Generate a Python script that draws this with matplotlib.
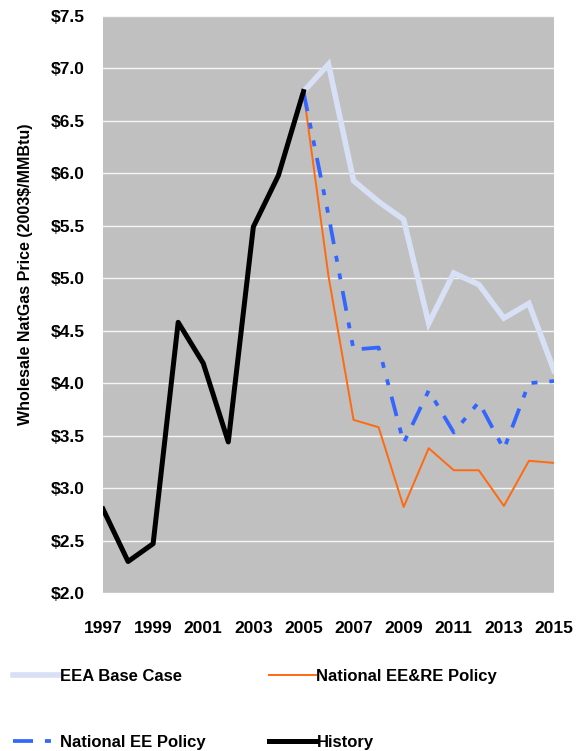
import matplotlib
matplotlib.use('Agg')
import matplotlib.pyplot as plt
import numpy as np

# Wholesale natural gas price, 2003$/MMBtu
hist_years = [1997, 1998, 1999, 2000, 2001, 2002, 2003, 2004, 2005]
history = [2.80, 2.30, 2.47, 4.58, 4.19, 3.44, 5.49, 5.98, 6.78]

proj_years = list(range(2005, 2016))
eea_base = [6.78, 7.04, 5.93, 5.73, 5.56, 4.57, 5.05, 4.94, 4.62, 4.76, 4.12]
ee_policy = [6.78, 5.60, 4.32, 4.34, 3.43, 3.93, 3.53, 3.82, 3.37, 4.00, 4.02]
eere_policy = [6.78, 5.02, 3.65, 3.58, 2.82, 3.38, 3.17, 3.17, 2.83, 3.26, 3.24]

x_ticks = list(range(1997, 2016, 2))
y_ticks = np.arange(2.0, 7.51, 0.5)

plt.rcParams['font.family'] = ['Liberation Sans', 'DejaVu Sans']
plt.rcParams['font.weight'] = 'bold'
plt.rcParams['lines.scale_dashes'] = False

fig = plt.figure(figsize=(5.84, 7.51), dpi=100)
ax = fig.add_axes([0.1764, 0.2104, 0.7722, 0.7683])
ax.set_facecolor('#c0c0c0')

l_eea, = ax.plot(proj_years, eea_base, color='#d8e0f5', lw=4.0,
                 solid_joinstyle='miter', label='EEA Base Case', zorder=2)
l_eere, = ax.plot(proj_years, eere_policy, color='#ff6a10', lw=1.4,
                  label='National EE&RE Policy', zorder=3)
l_ee, = ax.plot(proj_years, ee_policy, color='#3366ff', lw=2.7,
                label='National EE Policy', zorder=4)
l_ee.set_dashes([14.4, 8.6, 4.3, 8.6, 4.3, 8.6])
l_hist, = ax.plot(hist_years, history, color='black', lw=3.6,
                  label='History', zorder=5)

ax.set_xlim(1997, 2015)
ax.set_ylim(2.0, 7.5)
ax.set_xticks(x_ticks)
ax.set_yticks(y_ticks)
ax.set_yticklabels([f'${v:.1f}' for v in y_ticks])
ax.grid(axis='y', color='white', lw=1.0, alpha=0.85)
ax.set_axisbelow(True)
for s in ax.spines.values():
    s.set_visible(False)
ax.tick_params(length=0, labelsize=12.5)
ax.tick_params(axis='y', pad=13)
ax.tick_params(axis='x', pad=20)
ax.set_ylabel('Wholesale NatGas Price (2003$/MMBtu)', fontsize=11.5,
              fontweight='bold')
ax.yaxis.set_label_coords(-0.155, 0.553)

fig.legend(handles=[l_eea, l_ee, l_eere, l_hist], ncol=2, frameon=False,
           loc='upper left', bbox_to_anchor=(0.01, 0.118),
           fontsize=12, handlelength=2.8, handletextpad=0.05,
           columnspacing=3.8, labelspacing=3.05, borderaxespad=0)

fig.savefig('out.png', dpi=100, facecolor='white')
